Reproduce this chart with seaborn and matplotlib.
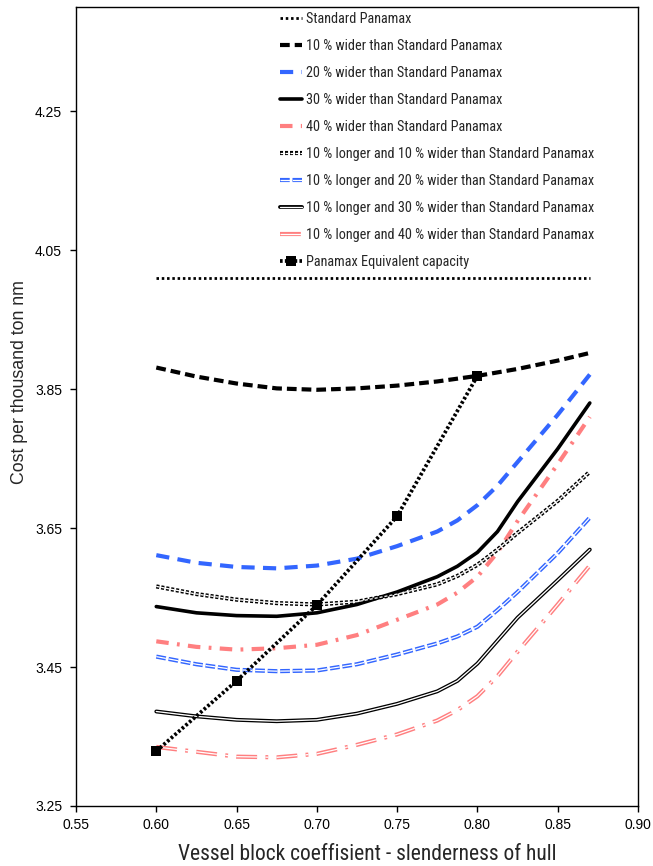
import matplotlib
matplotlib.use("Agg")
import matplotlib.pyplot as plt
import matplotlib.patheffects as pe
from matplotlib import font_manager as fm
from matplotlib.font_manager import FontProperties
import seaborn as sns

# ---------------- data ----------------
block_coef = [0.60, 0.625, 0.65, 0.675, 0.70, 0.725, 0.75, 0.775, 0.7875, 0.80, 0.8125, 0.825, 0.85, 0.87]
standard_panamax = [4.01] * 14
wider_10 = [3.881, 3.868, 3.858, 3.851, 3.849, 3.851, 3.855, 3.861, 3.865, 3.869, 3.874, 3.879, 3.891, 3.902]
wider_20 = [3.611, 3.600, 3.594, 3.592, 3.596, 3.606, 3.624, 3.645, 3.661, 3.683, 3.711, 3.745, 3.813, 3.871]
wider_30 = [3.537, 3.528, 3.524, 3.523, 3.528, 3.540, 3.558, 3.580, 3.595, 3.615, 3.645, 3.688, 3.764, 3.830]
wider_40 = [3.487, 3.479, 3.475, 3.477, 3.482, 3.496, 3.518, 3.540, 3.557, 3.580, 3.615, 3.660, 3.742, 3.810]
longer10_wider10 = [3.566, 3.555, 3.547, 3.542, 3.540, 3.544, 3.555, 3.569, 3.581, 3.597, 3.619, 3.643, 3.689, 3.731]
longer10_wider20 = [3.465, 3.454, 3.446, 3.444, 3.445, 3.454, 3.468, 3.484, 3.494, 3.508, 3.532, 3.558, 3.614, 3.665]
longer10_wider30 = [3.386, 3.379, 3.374, 3.372, 3.374, 3.383, 3.397, 3.415, 3.430, 3.455, 3.488, 3.521, 3.575, 3.619]
longer10_wider40 = [3.335, 3.328, 3.321, 3.320, 3.325, 3.338, 3.353, 3.373, 3.388, 3.408, 3.437, 3.472, 3.540, 3.596]
equiv_x = [0.60, 0.65, 0.70, 0.75, 0.80]
equiv_y = [3.329, 3.430, 3.539, 3.667, 3.869]

labels = [
    "Standard Panamax",
    "10 % wider than Standard Panamax",
    "20 % wider than Standard Panamax",
    "30 % wider than Standard Panamax",
    "40 % wider than Standard Panamax",
    "10 % longer and 10 % wider than Standard Panamax",
    "10 % longer and 20 % wider than Standard Panamax",
    "10 % longer and 30 % wider than Standard Panamax",
    "10 % longer and 40 % wider than Standard Panamax",
    "Panamax Equivalent capacity",
]
x_ticks = [0.55, 0.60, 0.65, 0.70, 0.75, 0.80, 0.85, 0.90]
y_ticks = [3.25, 3.45, 3.65, 3.85, 4.05, 4.25]
x_label = "Vessel block coeffisient - slenderness of hull"
y_label = "Cost per thousand ton nm"

# ---------------- style ----------------
sns.set_style("white")
plt.rcParams["font.family"] = ["Liberation Sans", "DejaVu Sans"]
plt.rcParams["lines.scale_dashes"] = False


def pick_narrow():
    best, best_rank = None, 99
    prefs = ["Liberation Sans Narrow", "Arial Narrow", "Roboto Condensed", "Open Sans Condensed",
             "Noto Sans", "Roboto", "Open Sans", "DejaVu Sans"]
    for f in fm.fontManager.ttflist:
        nm = f.name
        narrowish = ("Narrow" in nm or "Condensed" in nm or
                     str(f.stretch) in ("condensed", "semi-condensed", "extra-condensed"))
        if not narrowish or f.style != "normal":
            continue
        try:
            w = int(f.weight)
        except Exception:
            w = 400 if str(f.weight) in ("normal", "regular", "book") else 700
        if w != 400:
            continue
        for i, p in enumerate(prefs):
            if nm.startswith(p):
                r = i * 3 + (0 if str(f.stretch) == "condensed" else 1)
                if r < best_rank:
                    best, best_rank = f.fname, r
                break
    return best


narrow_file = pick_narrow()


def fprop(size):
    if narrow_file:
        return FontProperties(fname=narrow_file, size=size)
    return FontProperties(family="Liberation Sans", size=size)


fig = plt.figure(figsize=(6.53, 8.66), dpi=100)
ax = fig.add_axes([0.1164, 0.0693, 0.8606, 0.9227])
renderer = fig.canvas.get_renderer()


def fit_size(text, target_px, max_size, prop_fn):
    t = fig.text(0, 0, text, fontproperties=prop_fn(10))
    w = t.get_window_extent(renderer).width
    t.remove()
    return min(max_size, 10 * target_px / w)


def single(y, color, lw, ls, label, z=2):
    sns.lineplot(x=block_coef, y=y, ax=ax, color=color, linewidth=lw,
                 linestyle=ls, label=label, zorder=z)


def double(y, color, outer, inner, ls, label, z=2):
    sns.lineplot(x=block_coef, y=y, ax=ax, color="white", linewidth=inner,
                 linestyle=ls, label=label, zorder=z,
                 path_effects=[pe.Stroke(linewidth=outer, foreground=color), pe.Normal()])


BLUE = "#3366FF"
PINK = "#FF7F80"

single(standard_panamax, "black", 2.0, (0, (1.8, 2.0)), labels[0], z=3)
single(wider_10, "black", 3.0, (0, (7, 3.6)), labels[1])
single(wider_20, BLUE, 3.0, (0, (9.5, 6)), labels[2])
single(wider_30, "black", 2.6, "-", labels[3])
single(wider_40, PINK, 3.0, (0, (9, 6, 2, 6)), labels[4])
double(longer10_wider10, "black", 3.0, 0.9, (0, (2.2, 1.4)), labels[5])
double(longer10_wider20, BLUE, 3.0, 0.9, (0, (7, 2)), labels[6])
double(longer10_wider30, "black", 2.8, 0.95, "-", labels[7])
double(longer10_wider40, PINK, 3.0, 0.9, (0, (15, 6, 2, 6)), labels[8])
sns.lineplot(x=equiv_x, y=equiv_y, ax=ax, color="black", linewidth=2.7,
             linestyle=(0, (1.9, 1.6)), marker="s", markersize=6.5,
             markeredgecolor="black", markerfacecolor="black", markeredgewidth=0,
             label=labels[9], zorder=4)

ax.set_xlim(0.55, 0.90)
ax.set_ylim(3.25, 4.40)
ax.set_xticks(x_ticks)
ax.set_yticks(y_ticks)
ax.set_xticklabels([f"{v:.2f}" for v in x_ticks])
ax.set_yticklabels([f"{v:.2f}" for v in y_ticks])
ax.tick_params(axis="both", direction="out", length=4, width=1, labelsize=10,
               colors="black", bottom=True, left=True)
ax.tick_params(axis="x", pad=5)
ax.tick_params(axis="y", pad=6)
for s in ax.spines.values():
    s.set_visible(True)
    s.set_color("black")
    s.set_linewidth(1.0)

xl_size = fit_size(x_label, 395, 15.5, fprop)
ax.set_xlabel(x_label, fontproperties=fprop(xl_size))
yl_prop = lambda s: FontProperties(family="Liberation Sans", size=s)
yl_size = fit_size(y_label, 205, 13.5, yl_prop)
ax.set_ylabel(y_label, fontproperties=yl_prop(yl_size))
ax.xaxis.set_label_coords(0.518, -0.047)
ax.yaxis.set_label_coords(-0.0854, 0.531)

lg_size = fit_size(labels[8], 290, 11.5, fprop)
fs_px = lg_size * 100 / 72
spacing = max(0.2, (29.7 - 1.17 * fs_px) / fs_px)
handles = ax.get_lines()
ax.legend(handles, labels, loc="upper left", bbox_to_anchor=(0.358, 0.997),
          frameon=False, prop=fprop(lg_size),
          handlelength=22 / fs_px, handletextpad=4 / fs_px, labelspacing=spacing,
          borderaxespad=0.0, borderpad=0.2, numpoints=1)

fig.savefig("out.png", dpi=100)
